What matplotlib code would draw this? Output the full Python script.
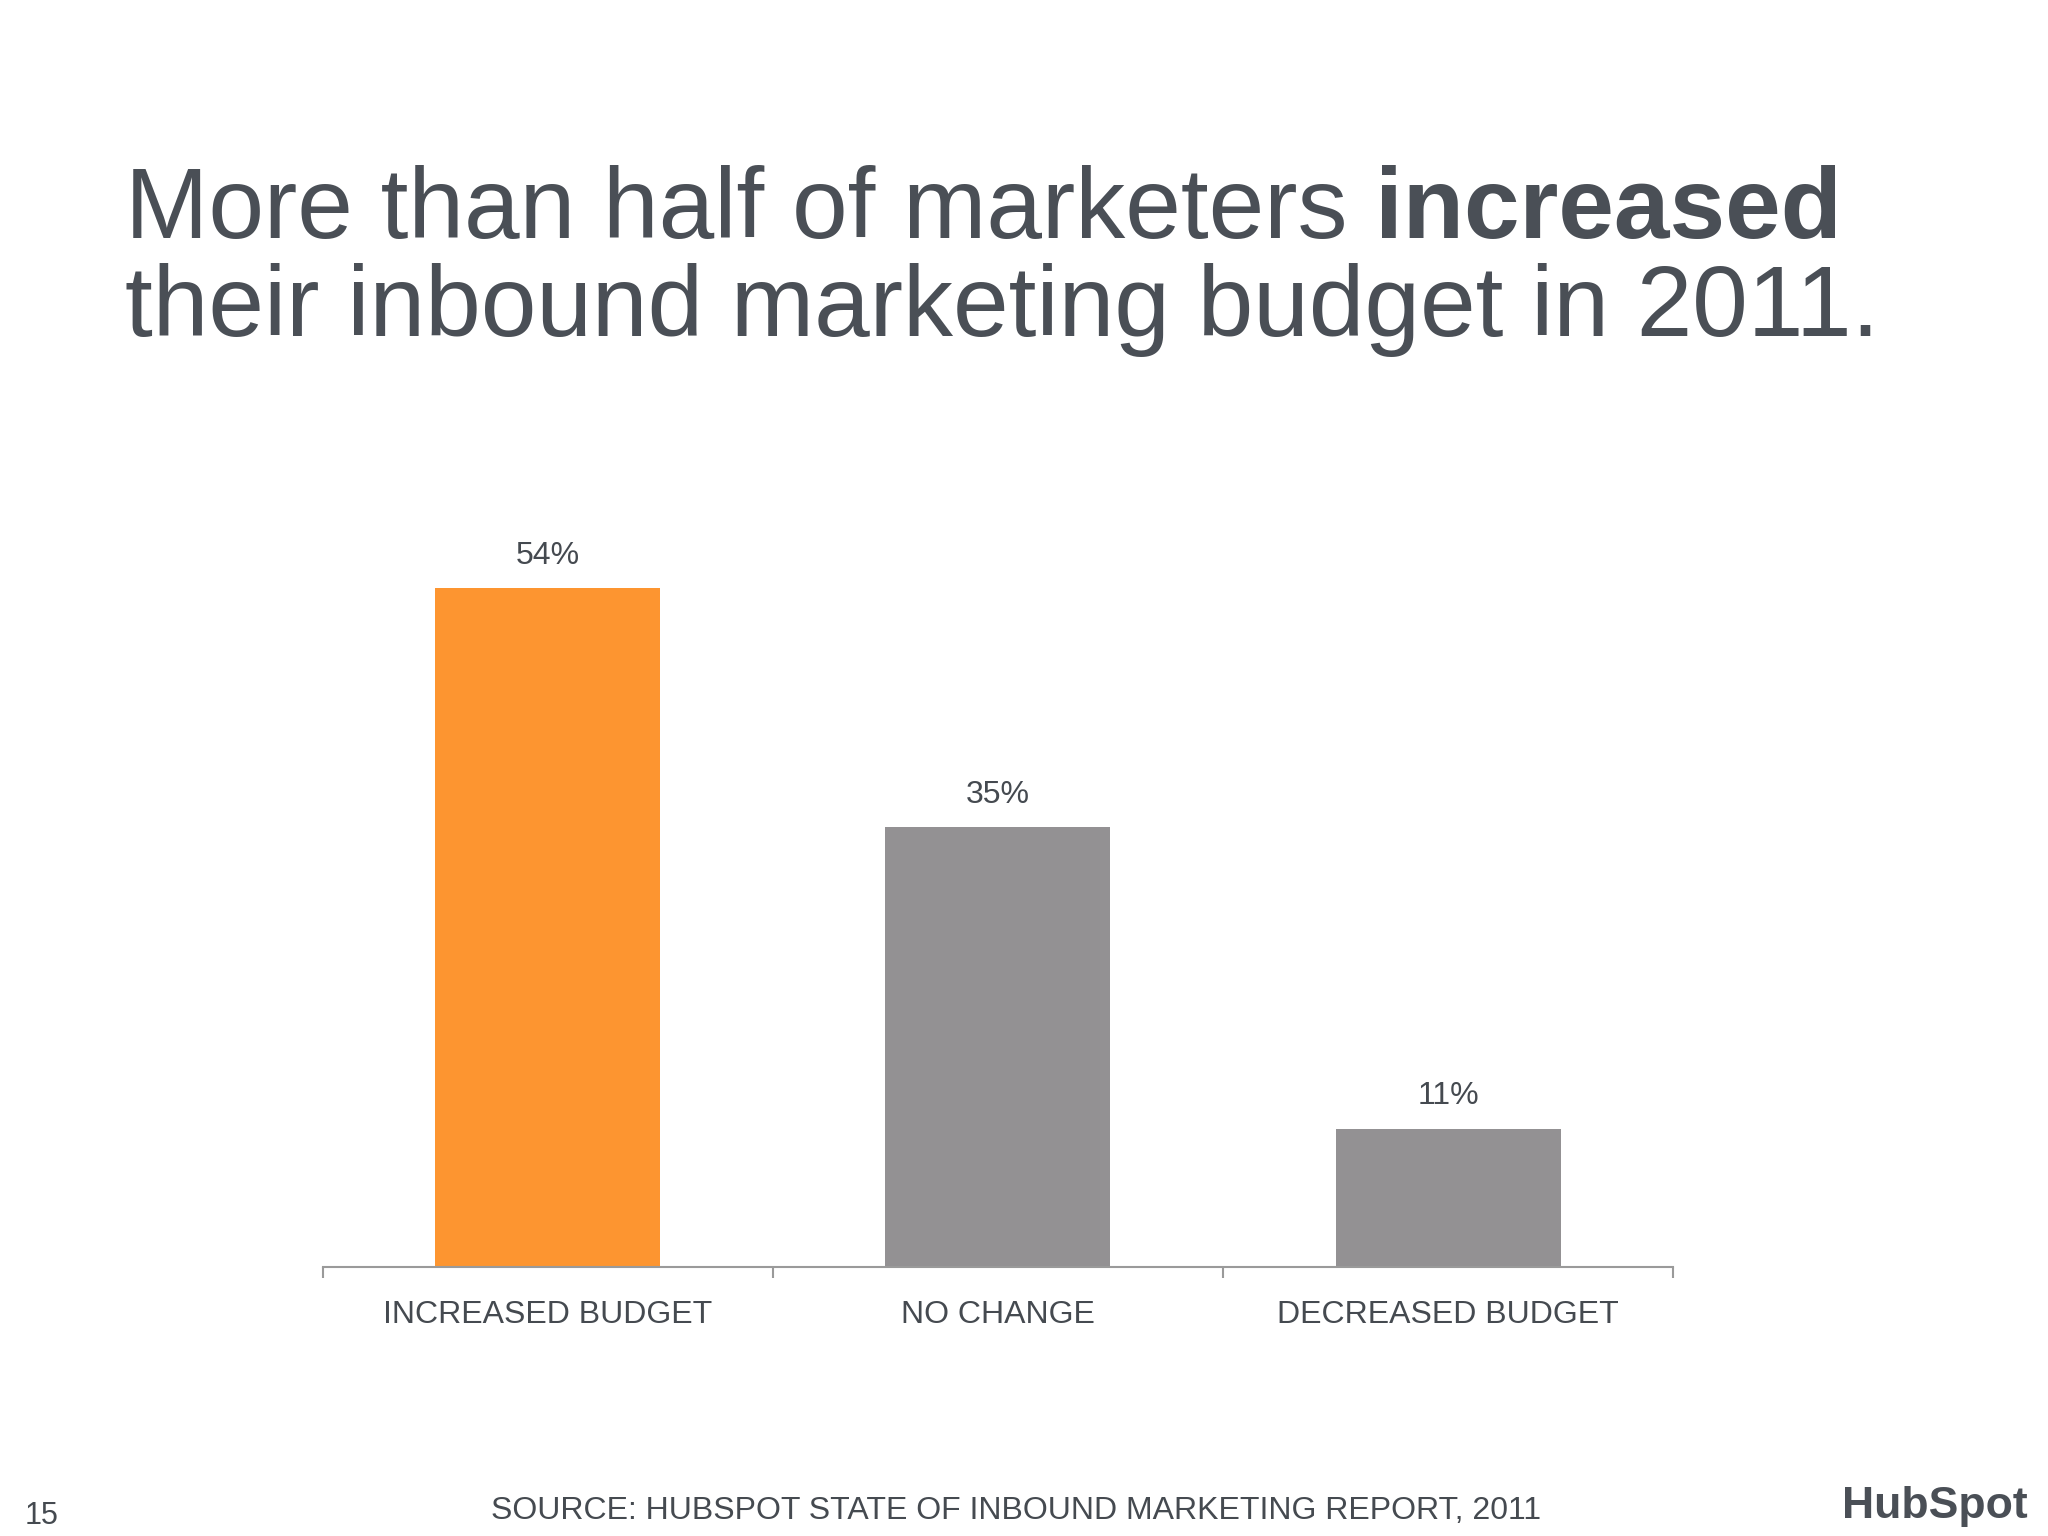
import matplotlib.pyplot as plt

categories = ["INCREASED BUDGET", "NO CHANGE", "DECREASED BUDGET"]
values = [54, 35, 11]
bar_colors = ["#FD9530", "#939193", "#939193"]

plt.rcParams['font.family'] = ['Liberation Sans', 'DejaVu Sans']
TITLE_C = "#4a4f56"
TEXT_C = "#454a50"

fig = plt.figure(figsize=(20.48, 15.36), dpi=100)
fig.patch.set_facecolor("white")

# title (mixed weight on first line)
t1 = fig.text(0.061, 0.845, "More than half of marketers ", fontsize=72,
              color=TITLE_C, ha="left", va="baseline")
fig.canvas.draw()
bb = t1.get_window_extent()
x_end = bb.x1 / fig.bbox.width
fig.text(x_end, 0.845, "increased", fontsize=72, color=TITLE_C,
         fontweight="bold", ha="left", va="baseline")
fig.text(0.061, 0.781, "their inbound marketing budget in 2011.", fontsize=72,
         color=TITLE_C, ha="left", va="baseline")

ax = fig.add_axes([0.1575, 0.175, 0.6595, 0.491])
x = range(len(categories))
ax.bar(x, values, width=0.5, color=bar_colors)
for xi, v in zip(x, values):
    ax.text(xi, v + 1.4, f"{v}%", ha="center", va="bottom", fontsize=23, color=TEXT_C)

ax.set_xlim(-0.5, 2.5)
ax.set_ylim(0, 60)
for s in ["top", "right", "left"]:
    ax.spines[s].set_visible(False)
ax.spines["bottom"].set_color("#9a9a9a")
ax.spines["bottom"].set_linewidth(1.5)
ax.set_yticks([])
ax.set_xticks([-0.5, 0.5, 1.5, 2.5])
ax.set_xticklabels([])
ax.tick_params(axis="x", length=8, width=1.5, color="#9a9a9a", direction="out")
for xi, c in zip(x, categories):
    ax.text(xi, -2.6, c, ha="center", va="top", fontsize=23, color=TEXT_C)

fig.text(0.496, 0.011, "SOURCE: HUBSPOT STATE OF INBOUND MARKETING REPORT, 2011",
         ha="center", va="baseline", fontsize=23, color=TEXT_C)
fig.text(0.012, 0.008, "15", ha="left", va="baseline", fontsize=22, color=TEXT_C)
fig.text(0.99, 0.012, "HubSpot", ha="right", va="baseline", fontsize=32,
         fontweight="bold", color="#4a4f56")

fig.savefig("out.png", dpi=100, facecolor="white")
